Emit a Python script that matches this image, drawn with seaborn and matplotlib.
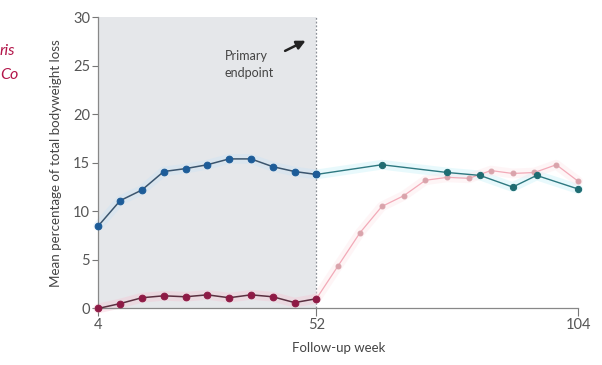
import matplotlib
matplotlib.use("Agg")
import matplotlib.pyplot as plt
import seaborn as sns
import pandas as pd

sns.set_theme(style="white")
plt.rcParams["font.family"] = ["Lato", "DejaVu Sans"]

# Visit positions on the follow-up axis (equally spaced visits)
pre_visits = list(range(0, 11))                      # week 4 .. week 52
post_visits = list(range(10, 23))                    # week 52 .. week 104
blue_post_visits = [10, 13, 16, 17.5, 19, 20.1, 22]  # continued-treatment visits

# Mean percentage of total bodyweight loss
blue_pre = [8.5, 11.1, 12.2, 14.1, 14.4, 14.8, 15.4, 15.4, 14.6, 14.1, 13.8]
red_pre = [0.0, 0.5, 1.1, 1.3, 1.2, 1.4, 1.1, 1.4, 1.2, 0.6, 1.0]
blue_post = [13.8, 14.8, 14.0, 13.7, 12.5, 13.7, 12.3]
pink_post = [1.0, 4.4, 7.8, 10.5, 11.6, 13.2, 13.5, 13.4, 14.2, 13.9, 14.0, 14.8, 13.1]

tick_positions = [0, 10, 22]
tick_labels = ["4", "52", "104"]
y_ticks = [0, 5, 10, 15, 20, 25, 30]

fig = plt.figure(figsize=(6.02, 3.65), dpi=100)
ax = fig.add_axes([0.1633, 0.155, 0.797, 0.798])

# Double-blind period shading and primary endpoint marker
ax.axvspan(0, 10, ymin=0, ymax=1, color="#e5e7ea", zorder=0, lw=0)
ax.axvline(10, color="#8a8f96", lw=0.9, ls=(0, (1.5, 1.5)), zorder=1)

def glow(x, y, color):
    ax.plot(x, y, color=color, lw=7, alpha=0.35, solid_capstyle="round",
            zorder=2, clip_on=False)

glow(blue_post_visits, blue_post, "#bff0f7")
glow(post_visits, pink_post, "#fde3e8")
glow(pre_visits, blue_pre, "#c6e2f7")
glow(pre_visits, red_pre, "#f7bfd0")

series = [
    (post_visits, pink_post, "#f2aab8", "#d9a3ab", 0.9, 3.5),
    (blue_post_visits, blue_post, "#2d7880", "#1e6c72", 1.0, 4.5),
    (pre_visits, blue_pre, "#3b556e", "#1d5c98", 1.1, 4.8),
    (pre_visits, red_pre, "#5a3040", "#8e1a45", 1.1, 4.8),
]
for x, y, lc, mc, lw, ms in series:
    df = pd.DataFrame({"visit": x, "loss": y})
    sns.lineplot(data=df, x="visit", y="loss", ax=ax, color=lc, lw=lw,
                 marker="o", markersize=ms, markerfacecolor=mc,
                 markeredgecolor=mc, zorder=4, clip_on=False)

ax.annotate("", xy=(9.62, 27.7), xytext=(8.45, 26.4),
            arrowprops=dict(arrowstyle="-|>", color="#222222", lw=1.8,
                            mutation_scale=13))
ax.text(5.8, 26.6, "Primary\nendpoint", fontsize=9, color="#444444",
        va="top", ha="left", linespacing=1.45)

ax.set_xlim(0, 22)
ax.set_ylim(0, 30)
ax.set_xticks(tick_positions)
ax.set_xticklabels(tick_labels)
ax.set_yticks(y_ticks)
ax.tick_params(axis="both", which="major", direction="out", length=4,
               width=0.8, color="#777777", labelcolor="#555555",
               labelsize=10.5, pad=2, bottom=True, left=True)
ax.tick_params(axis="x", length=6, pad=1)
for side in ("top", "right"):
    ax.spines[side].set_visible(False)
for side in ("left", "bottom"):
    ax.spines[side].set_color("#888888")
    ax.spines[side].set_linewidth(0.9)

ax.set_xlabel("Follow-up week", fontsize=9.5, color="#444444", labelpad=7)
ax.set_ylabel("Mean percentage of total bodyweight loss", fontsize=9.6,
              color="#444444", labelpad=8)

fig.text(0.0, 0.86, "ris", fontsize=11.5, color="#b3164a", style="italic",
         ha="left", va="center")
fig.text(0.0, 0.795, "Co", fontsize=11.5, color="#b3164a", style="italic",
         ha="left", va="center")

fig.savefig("out.png", dpi=100)
